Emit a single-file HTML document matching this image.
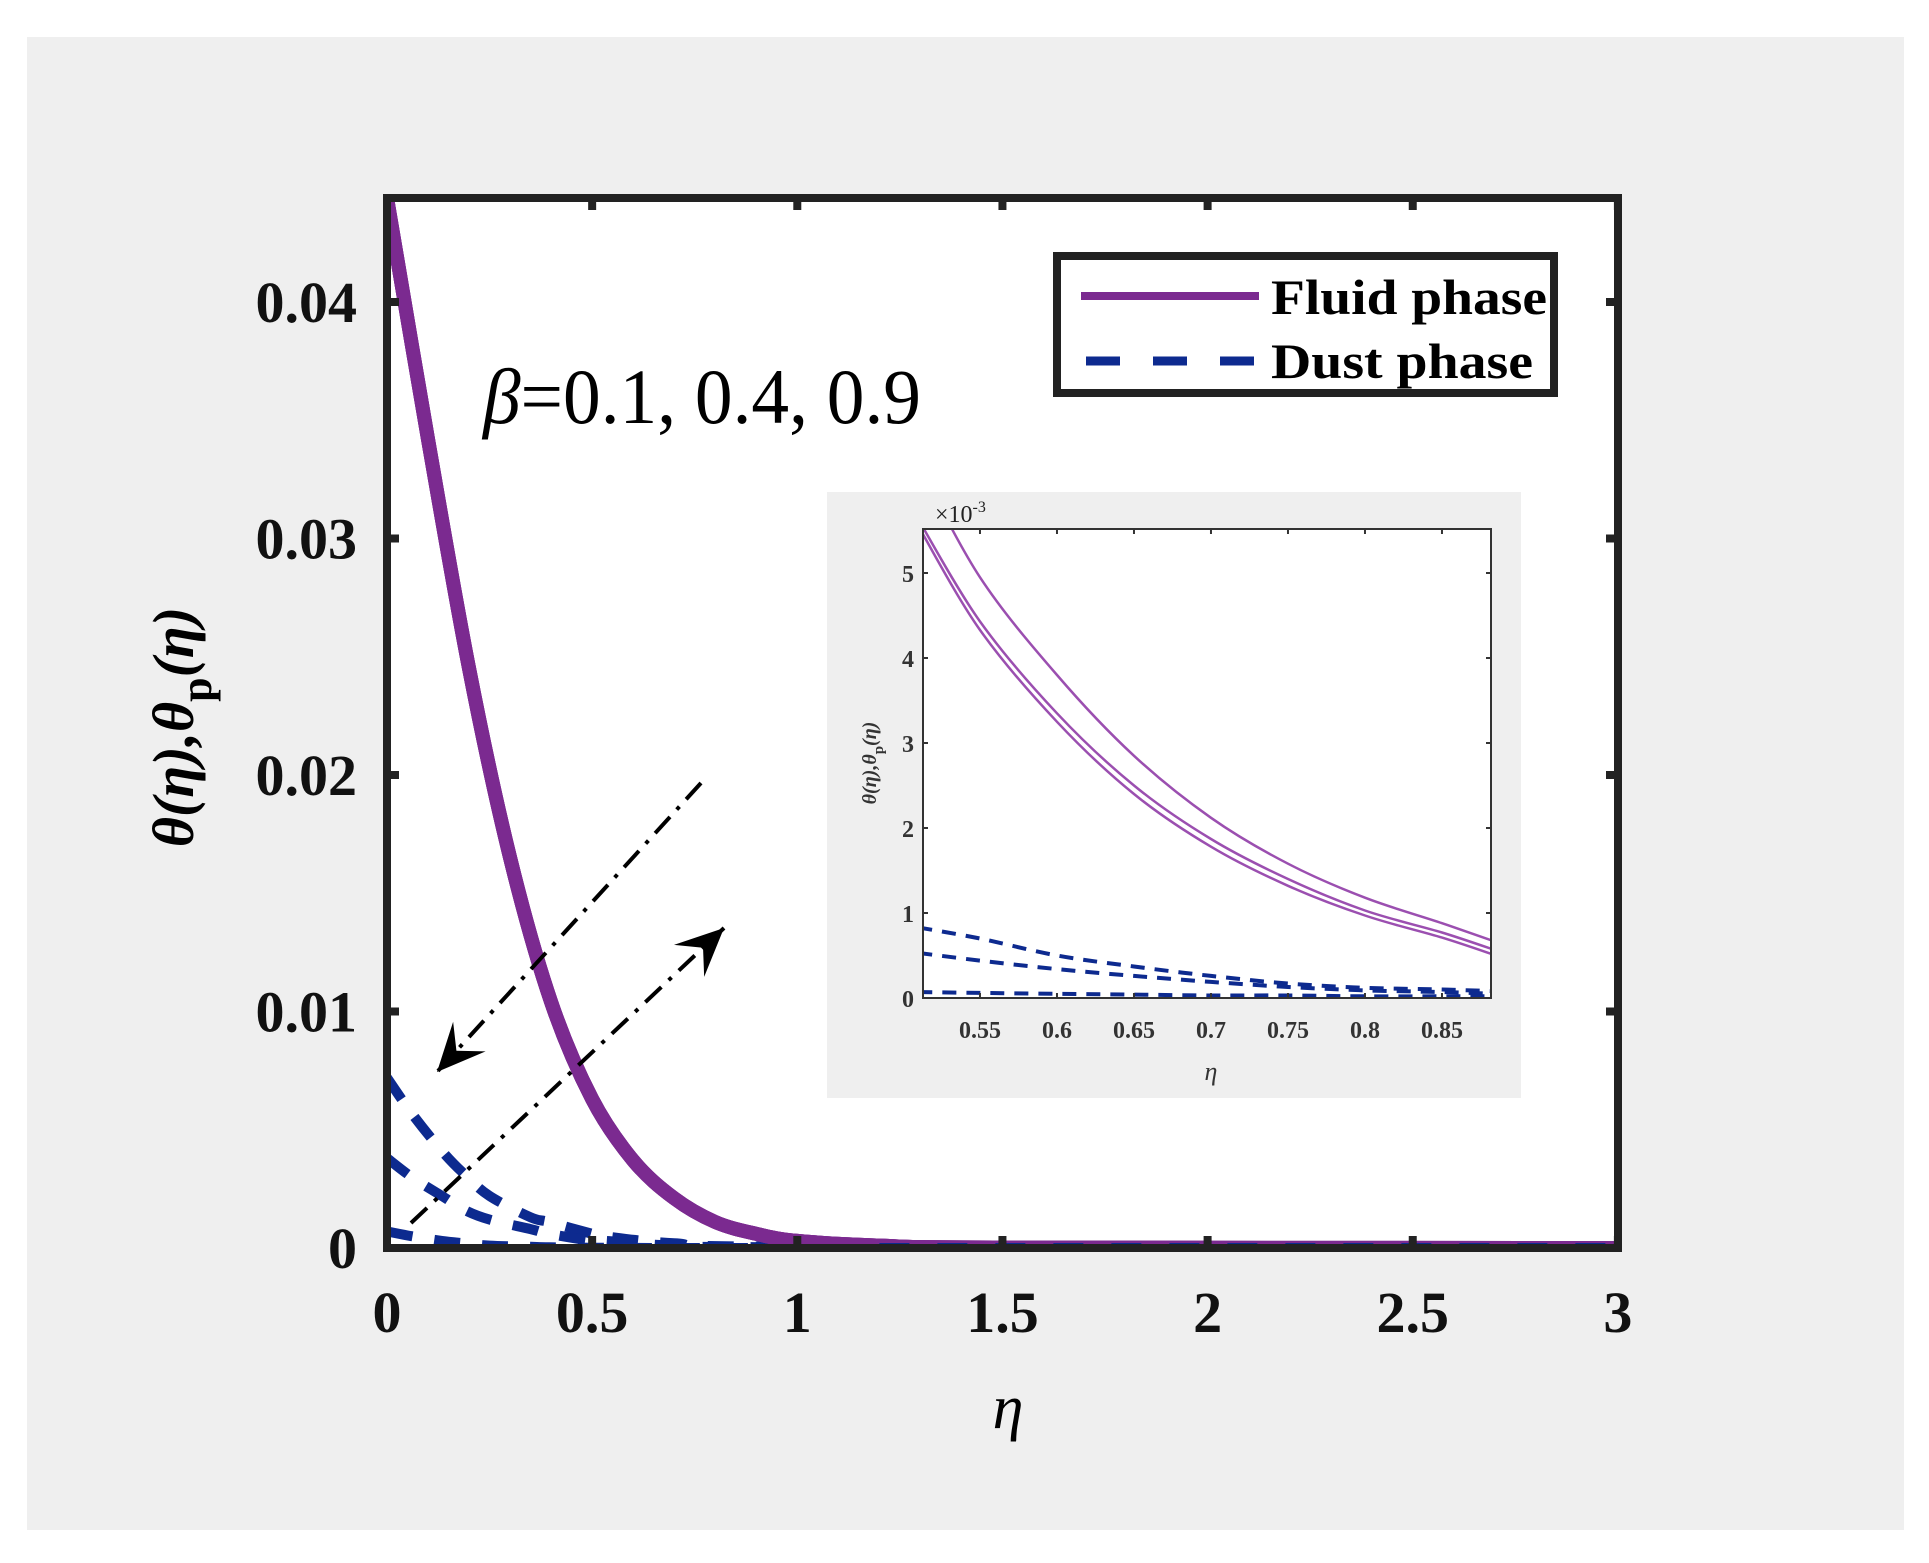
<!DOCTYPE html>
<html><head><meta charset="utf-8"><style>
html,body{margin:0;padding:0;background:#fff;}
svg{display:block;}
text{font-family:"Liberation Serif","DejaVu Serif",serif;}
</style></head><body>
<svg id="chart" width="1929" height="1563" viewBox="0 0 1929 1563" xmlns="http://www.w3.org/2000/svg">
<rect x="27" y="37" width="1877" height="1493" fill="#efefef"/>
<rect x="387" y="198" width="1231" height="1050" fill="#fff"/>
<defs>
<clipPath id="mainClip"><rect x="387" y="198" width="1231" height="1050"/></clipPath>
<clipPath id="insetClip"><rect x="923" y="529" width="568" height="469"/></clipPath>
</defs>
<g id="mainMarks" clip-path="url(#mainClip)"></g>
<rect x="827" y="492" width="694" height="606" fill="#efefef"/>
<rect x="923" y="529" width="568" height="469" fill="#fff"/>
<g id="insetMarks" clip-path="url(#insetClip)"></g>
<rect x="923" y="529" width="568" height="469" fill="none" stroke="#333" stroke-width="2"/>
<g id="axes"></g>
<rect x="387" y="198" width="1231" height="1050" fill="none" stroke="#222" stroke-width="8"/>
<g>
<rect x="1057" y="256" width="497" height="137" fill="#fff" stroke="#222" stroke-width="8"/>
<line x1="1081" y1="296" x2="1259" y2="296" stroke="#7b2a90" stroke-width="8"/>
<line x1="1086" y1="361" x2="1254" y2="361" stroke="#0d2a8f" stroke-width="9" stroke-dasharray="34,33"/>
<text x="1271" y="314" font-size="50" font-weight="bold" fill="#000" textLength="276" lengthAdjust="spacingAndGlyphs">Fluid phase</text>
<text x="1271" y="378" font-size="50" font-weight="bold" fill="#000" textLength="262" lengthAdjust="spacingAndGlyphs">Dust phase</text>
</g>
<text x="483" y="423" font-size="78" fill="#000" textLength="438" lengthAdjust="spacingAndGlyphs"><tspan font-style="italic">β</tspan>=0.1, 0.4, 0.9</text>
<text x="1008" y="1428" font-size="62" font-style="italic" fill="#000" text-anchor="middle">η</text>
<text transform="translate(193,727) rotate(-90)" font-size="58" font-style="italic" font-weight="bold" fill="#000" text-anchor="middle">θ(η),θ<tspan dy="18" font-style="normal" font-size="44">p</tspan><tspan dy="-18">(η)</tspan></text>
<text x="935" y="522" font-size="24" fill="#222">×10<tspan dy="-10" font-size="16">-3</tspan></text>
<text transform="translate(876,763) rotate(-90)" font-size="20" font-style="italic" font-weight="bold" fill="#333" text-anchor="middle">θ(η),θ<tspan dy="7" font-style="normal" font-size="15">p</tspan><tspan dy="-7">(η)</tspan></text>
<text x="1211" y="1080" font-size="26" font-style="italic" fill="#333" text-anchor="middle">η</text>
<g id="arrows"></g>
</svg>
<script>
// Main chart data
const mainX = [0,0.1,0.2,0.3,0.4,0.5,0.6,0.7,0.8,0.9,1.0,1.2,1.5,3.0];
const fluid1 = [0.0444,0.0342,0.0245,0.0165,0.0104,0.0063,0.0037,0.0021,0.0011,0.0006,0.0003,0.0001,0.00002,0];
const fluid2 = [0.0444,0.0342,0.0245,0.0165,0.0104,0.0063,0.0037,0.0021,0.0011,0.0006,0.0003,0.0001,0.00002,0];
const fluid3 = [0.0444,0.0342,0.0245,0.0165,0.0104,0.0063,0.0037,0.0021,0.0011,0.0006,0.0003,0.0001,0.00002,0];
const dustX = [0,0.06,0.134,0.19,0.25,0.35,0.395,0.5,0.53,0.7,1.0,3.0];
const dust1 = [0.0072,0.0057,0.0041,0.0031,0.0022,0.0013,0.0011,0.0006,0.0005,0.0002,0.00005,0];
const dust2 = [0.0038,0.0030,0.0022,0.0016,0.0012,0.0008,0.0006,0.0003,0.0003,0.0001,0.00003,0];
const dust3 = [0.0007,0.0005,0.0003,0.0002,0.0001,0.00005,0.00003,0.00001,0.00001,0,0,0];
const xTicks = [0,0.5,1,1.5,2,2.5,3];
const xTickLabels = ["0","0.5","1","1.5","2","2.5","3"];
const yTicks = [0,0.01,0.02,0.03,0.04];
const yTickLabels = ["0","0.01","0.02","0.03","0.04"];
// Inset data (x10^-3)
const insetX = [0.51,0.55,0.6,0.65,0.7,0.75,0.8,0.85,0.885];
const insetFluid1 = [6.28,4.95,3.8,2.85,2.12,1.58,1.18,0.88,0.66];
const insetFluid2 = [5.63,4.43,3.35,2.5,1.87,1.4,1.03,0.77,0.56];
const insetFluid3 = [5.55,4.33,3.25,2.4,1.78,1.32,0.97,0.71,0.5];
const insetDust1 = [0.83,0.7,0.5,0.37,0.26,0.17,0.12,0.1,0.08];
const insetDust2 = [0.53,0.44,0.34,0.26,0.19,0.13,0.09,0.07,0.05];
const insetDust3 = [0.07,0.06,0.05,0.04,0.03,0.03,0.02,0.02,0.02];
const insetXTicks = [0.55,0.6,0.65,0.7,0.75,0.8,0.85];
const insetXTickLabels = ["0.55","0.6","0.65","0.7","0.75","0.8","0.85"];
const insetYTicks = [0,1,2,3,4,5];
const insetYTickLabels = ["0","1","2","3","4","5"];

const NS = "http://www.w3.org/2000/svg";
function xS(v){return 387 + v*410.3;}
function yS(v){return 1248 - v*23650;}
function ixS(v){return 923 + (v-0.513)*1540;}
function iyS(v){return 998 - v*85;}
function mk(tag, attrs, parent){const e=document.createElementNS(NS,tag);for(const k in attrs)e.setAttribute(k,attrs[k]);parent.appendChild(e);return e;}
function smoothD(xs, ys, fx, fy){
  const p = xs.map((x,i)=>[fx(x),fy(ys[i])]);
  let d = "M"+p[0][0]+","+p[0][1];
  for(let i=0;i<p.length-1;i++){
    const p0=p[Math.max(0,i-1)],p1=p[i],p2=p[i+1],p3=p[Math.min(p.length-1,i+2)];
    const c1=[p1[0]+(p2[0]-p0[0])/6,p1[1]+(p2[1]-p0[1])/6];
    const c2=[p2[0]-(p3[0]-p1[0])/6,p2[1]-(p3[1]-p1[1])/6];
    d+="C"+c1[0].toFixed(1)+","+c1[1].toFixed(1)+" "+c2[0].toFixed(1)+","+c2[1].toFixed(1)+" "+p2[0].toFixed(1)+","+p2[1].toFixed(1);
  }
  return d;
}
const main = document.getElementById("mainMarks");
[[dust1,"dust-line-beta-0.1"],[dust2,"dust-line-beta-0.4"],[dust3,"dust-line-beta-0.9"]].forEach(([ys,name])=>{
  const e = mk("path",{d:smoothD(dustX,ys,xS,yS),fill:"none",stroke:"#0d2a8f","stroke-width":10,"stroke-dasharray":"26,22"},main);
  
  
});
[[fluid1,"fluid-line-beta-0.1"],[fluid2,"fluid-line-beta-0.4"],[fluid3,"fluid-line-beta-0.9"]].forEach(([ys,name])=>{
  const e = mk("path",{d:smoothD(mainX,ys,xS,yS),fill:"none",stroke:"#7b2a90","stroke-width":14},main);
  
  
});
const ov = mk("line",{x1:xS(1.2),y1:yS(0),x2:xS(3),y2:yS(0),stroke:"#0d2a8f","stroke-width":10,"stroke-dasharray":"30,28"},main);



const inset = document.getElementById("insetMarks");
[[insetFluid1,"inset-fluid-line-1"],[insetFluid2,"inset-fluid-line-2"],[insetFluid3,"inset-fluid-line-3"]].forEach(([ys,name])=>{
  const e = mk("path",{d:smoothD(insetX,ys,ixS,iyS),fill:"none",stroke:"#9b4fb0","stroke-width":2.5},inset);
  
  
});
[[insetDust1,"inset-dust-line-1"],[insetDust2,"inset-dust-line-2"],[insetDust3,"inset-dust-line-3"]].forEach(([ys,name])=>{
  const e = mk("path",{d:smoothD(insetX,ys,ixS,iyS),fill:"none",stroke:"#0d2a8f","stroke-width":4,"stroke-dasharray":"14,10"},inset);
  
  
});

const axes = document.getElementById("axes");
xTicks.forEach((v,i)=>{
  const x=xS(v);
  const t1=mk("line",{x1:x,y1:1248,x2:x,y2:1236,stroke:"#222","stroke-width":8},axes);
  
  
  const t2=mk("line",{x1:x,y1:198,x2:x,y2:210,stroke:"#222","stroke-width":8},axes);
  
  
  const l=mk("text",{x:x,y:1332,"font-size":58,"font-weight":"bold","text-anchor":"middle",fill:"#111"},axes);
  l.textContent=xTickLabels[i];
  
  
});
yTicks.forEach((v,i)=>{
  const y=yS(v);
  const t1=mk("line",{x1:387,y1:y,x2:399,y2:y,stroke:"#222","stroke-width":8},axes);
  
  
  const t2=mk("line",{x1:1618,y1:y,x2:1606,y2:y,stroke:"#222","stroke-width":8},axes);
  
  
  const l=mk("text",{x:357,y:y+20,"font-size":58,"font-weight":"bold","text-anchor":"end",fill:"#111"},axes);
  l.textContent=yTickLabels[i];
  
  
});
insetXTicks.forEach((v,i)=>{
  const x=ixS(v);
  const t1=mk("line",{x1:x,y1:998,x2:x,y2:993,stroke:"#333","stroke-width":2},axes);
  
  
  const t2=mk("line",{x1:x,y1:529,x2:x,y2:534,stroke:"#333","stroke-width":2},axes);
  
  
  const l=mk("text",{x:x,y:1038,"font-size":24,"font-weight":"bold","text-anchor":"middle",fill:"#333"},axes);
  l.textContent=insetXTickLabels[i];
  
  
});
insetYTicks.forEach((v,i)=>{
  const y=iyS(v);
  const t1=mk("line",{x1:923,y1:y,x2:928,y2:y,stroke:"#333","stroke-width":2},axes);
  
  
  const t2=mk("line",{x1:1491,y1:y,x2:1486,y2:y,stroke:"#333","stroke-width":2},axes);
  
  
  const l=mk("text",{x:914,y:y+9,"font-size":24,"font-weight":"bold","text-anchor":"end",fill:"#333"},axes);
  l.textContent=insetYTickLabels[i];
  
  
});

const arrows = document.getElementById("arrows");
function arrow(x1,y1,x2,y2,name){
  const g = mk("g",{},arrows);
  
  
  mk("line",{x1:x1,y1:y1,x2:x2,y2:y2,stroke:"#000","stroke-width":4,"stroke-dasharray":"22,10,4,10"},g);
  const a=Math.atan2(y2-y1,x2-x1), L=48, W=22;
  const bx=x2-L*Math.cos(a), by=y2-L*Math.sin(a);
  const nx=-Math.sin(a), ny=Math.cos(a);
  const mx=x2-L*0.6*Math.cos(a), my=y2-L*0.6*Math.sin(a);
  mk("path",{d:`M${x2},${y2}L${bx+nx*W},${by+ny*W}L${mx},${my}L${bx-nx*W},${by-ny*W}Z`,fill:"#000"},g);
}
arrow(701,783,437,1072,"decrease-arrow");
arrow(411,1223,724,928,"increase-arrow");
</script>
</body></html>
